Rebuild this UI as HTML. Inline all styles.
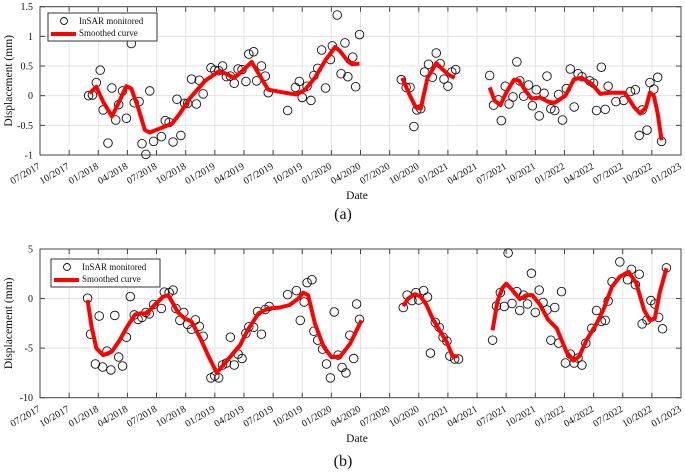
<!DOCTYPE html>
<html><head><meta charset="utf-8"><style>
body{margin:0;background:#fff;}
svg{display:block;}
text{font-family:"Liberation Serif","Times New Roman",serif;}
</style></head><body>
<svg id="chart" width="685" height="472" viewBox="0 0 685 472" font-family="Liberation Serif, serif"></svg>
<script>
// x values: months since 07/2017
const quarterLabels=["07/2017","10/2017","01/2018","04/2018","07/2018","10/2018","01/2019","04/2019","07/2019","10/2019","01/2020","04/2020","07/2020","10/2020","01/2021","04/2021","07/2021","10/2021","01/2022","04/2022","07/2022","10/2022","01/2023"];
const yTicksA=[-1,-0.5,0,0.5,1,1.5];
const yTickLabelsA=["-1","-0.5","0","0.5","1","1.5"];
const yTicksB=[-10,-5,0,5];
const yTickLabelsB=["-10","-5","0","5"];

const ptsA_t=[5.0,5.4,5.8,6.2,6.5,7.0,7.4,7.8,8.1,8.5,8.9,9.4,9.7,10.2,10.5,10.9,11.3,11.7,12.5,12.9,13.3,13.7,14.1,14.5,14.9,15.2,15.6,16.1,16.4,16.8,17.6,18.0,18.4,18.8,19.2,19.6,20.0,20.4,20.8,21.2,21.5,22.0,22.3,22.8,23.2,23.5,25.5,26.3,26.7,27.0,27.5,27.9,28.2,28.6,29.0,29.4,29.9,30.1,30.6,31.0,31.4,31.7,32.2,32.5,32.9,37.2,37.7,38.1,38.5,38.8,39.2,39.6,40.0,40.4,40.8,41.2,41.6,42.0,42.4,42.8,46.3,46.7,47.2,47.5,47.9,48.3,48.7,49.1,49.4,49.8,50.3,50.7,51.1,51.4,51.9,52.2,52.6,53.0,53.4,53.8,54.2,54.6,55.0,55.4,55.8,56.6,57.0,57.3,57.8,58.2,58.5,59.3,60.1,60.8,61.3,61.7,62.0,62.5,62.8,63.2,63.6,64.0];
const ptsA_v=[0,0.01,0.22,0.43,-0.24,-0.8,0.13,-0.41,-0.15,0.08,-0.38,0.88,-0.12,-0.1,-0.81,-0.99,0.08,-0.77,-0.69,-0.42,-0.45,-0.78,-0.06,-0.67,-0.13,-0.13,0.28,-0.14,0.26,0.03,0.47,0.43,0.42,0.5,0.32,0.33,0.21,0.45,0.44,0.24,0.7,0.74,0.25,0.5,0.33,0.05,-0.25,0.14,0.24,-0.03,0.16,-0.08,0.34,0.46,0.77,0.13,0.61,0.84,1.36,0.37,0.89,0.32,0.65,0.15,1.03,0.27,0.14,0.14,-0.52,-0.24,-0.22,0.4,0.53,0.31,0.72,0.54,0.28,0.16,0.4,0.44,0.34,-0.16,-0.07,-0.42,0.16,-0.14,-0.02,0.57,0.25,-0.01,0.18,-0.17,0.1,-0.34,0.04,0.33,-0.22,-0.25,0.02,-0.41,0.12,0.45,-0.19,0.37,0.32,0.25,0.21,-0.25,0.48,-0.23,0.16,-0.1,-0.08,0.07,0.1,-0.67,-0.24,-0.58,0.22,0.11,0.31,-0.77];

const curveA_t=[5.1,5.8,6.5,7.4,8.0,8.9,9.4,10.1,10.8,11.3,12.4,13.6,14.4,15.4,17.0,18.3,19.0,20.0,20.6,21.8,22.4,23.5,25.2,26.4,27.3,28.3,29.4,30.4,30.9,31.7,32.1,32.9,null,37.3,38.1,38.7,39.2,39.9,40.8,41.4,42.1,42.7,null,46.3,46.8,47.4,48.0,48.8,49.3,50.0,50.6,51.5,52.3,53.0,54.1,55.0,55.8,56.8,57.7,58.7,60.2,61.2,61.8,62.4,62.8,63.2,63.6,64.0];
const curveA_v=[0.04,0.15,-0.1,-0.35,-0.15,0.16,0.12,-0.2,-0.58,-0.62,-0.55,-0.47,-0.3,-0.05,0.25,0.4,0.38,0.3,0.38,0.57,0.4,0.1,0.05,0.02,0.1,0.3,0.6,0.82,0.75,0.58,0.53,0.54,null,0.3,0.0,-0.2,-0.22,0.3,0.55,0.45,0.35,0.3,null,0.14,-0.08,-0.16,0.05,0.27,0.26,0.08,-0.05,-0.03,-0.1,-0.12,0.0,0.28,0.3,0.2,0.03,0.05,0.05,-0.2,-0.3,-0.2,0.05,0.0,-0.3,-0.75];

const ptsB_t=[4.9,5.2,5.7,6.1,6.45,6.9,7.3,7.7,8.1,8.5,8.9,9.3,9.7,10.1,10.5,10.9,11.25,11.7,12.5,12.8,13.3,13.7,14.0,14.4,14.8,15.2,15.6,16.0,16.4,16.8,17.6,18.0,18.4,18.8,19.2,19.6,20.0,20.4,20.8,21.2,21.5,22.0,22.4,22.8,23.2,23.6,25.5,26.4,26.8,27.2,27.5,28.0,28.2,28.6,29.1,29.5,29.9,30.3,30.7,31.1,31.5,31.9,32.3,32.6,32.9,37.4,37.8,38.3,38.7,39.0,39.5,39.9,40.2,40.7,41.1,41.5,41.9,42.2,42.7,43.1,46.6,47.0,47.4,47.8,48.2,48.6,49.1,49.4,49.8,50.2,50.6,51.0,51.4,51.8,52.2,52.6,53.0,53.4,53.7,54.1,54.6,55.0,55.4,55.8,56.2,56.8,57.3,57.8,58.2,58.5,58.9,59.7,60.5,60.9,61.3,61.7,62.0,62.5,62.9,63.3,63.7,64.1,64.5];
const ptsB_v=[0.03,-3.6,-6.6,-1.76,-6.9,-5.3,-7.2,-1.7,-5.9,-6.8,-3.9,0.2,-1.65,-2.1,-1.9,-1.4,-1.55,-0.6,-1.0,0.65,0.6,0.85,-1.0,-2.2,-1.4,-2.6,-3.1,-2.15,-2.8,-3.8,-8.0,-7.8,-8.0,-6.7,-6.5,-3.9,-6.7,-5.6,-6.05,-3.5,-2.85,-2.9,-1.3,-3.6,-1.1,-0.8,0.4,0.8,-2.2,-0.35,1.6,1.9,-3.3,-4.2,-5.1,-6.6,-8.0,-1.35,-5.7,-6.95,-7.5,-3.7,-6.05,-0.55,-2.1,-0.9,0.35,-0.2,0.6,-0.15,0.8,0.15,-5.5,-2.4,-2.9,-3.9,-4.3,-5.8,-6.1,-6.1,-4.2,-0.75,0.6,-0.8,4.6,-0.5,0.7,-1.2,0.35,-0.55,2.55,-1.4,0.85,-0.4,-1.15,-4.2,-0.9,-4.5,0.7,-6.5,-5.6,-6.5,-6.0,-6.7,-4.5,-3.0,-1.2,-2.3,-2.2,-0.25,1.7,3.7,1.9,2.95,1.4,2.45,-2.55,-2.15,-0.2,-0.55,-1.9,-3.05,3.1];

const curveB_t=[4.9,5.3,5.8,6.5,7.4,8.2,9.0,9.8,10.3,11.0,11.8,12.7,13.2,13.7,14.2,14.9,15.6,16.5,17.3,18.2,18.7,19.6,20.6,21.4,22.5,23.5,24.7,25.7,26.6,27.1,27.6,28.3,29.2,30.0,30.9,31.9,33.1,null,37.4,37.9,38.6,39.2,39.8,40.5,41.2,41.9,42.5,43.0,null,46.6,47.1,47.6,48.0,48.6,49.4,50.1,50.7,51.5,52.3,53.2,54.2,54.9,55.5,56.3,57.3,58.0,58.9,59.7,60.6,61.4,62.2,62.8,63.3,63.8,64.5];
const curveB_v=[-0.15,-2.8,-5.0,-5.7,-5.35,-4.2,-2.8,-1.6,-1.5,-1.5,-0.65,0.2,0.35,-0.5,-1.4,-2.0,-2.3,-4.0,-5.7,-7.5,-6.9,-5.85,-4.7,-3.15,-1.5,-1.0,-0.9,-0.65,0.0,0.6,0.35,-2.5,-4.85,-5.9,-5.85,-4.6,-2.2,null,-0.75,0.0,0.45,0.2,-0.65,-2.15,-3.3,-4.4,-5.85,-5.8,null,-3.2,-0.3,1.05,1.5,0.9,-0.05,0.35,0.35,-0.65,-2.1,-3.0,-5.35,-6.25,-5.85,-4.15,-2.55,-1.15,1.2,2.2,2.7,1.55,-1.15,-2.2,-2.0,0.55,3.05];

const NS="http://www.w3.org/2000/svg";
const svg=document.getElementById('chart');
function mk(tag,attrs,parent){const e=document.createElementNS(NS,tag);for(const k in attrs)e.setAttribute(k,attrs[k]);if(tag==='text')e.setAttribute('font-family','Liberation Serif, serif');(parent||svg).appendChild(e);return e;}

function panel(cfg){
  const g=mk('g',{});
  
  
  const L=40,R=681,T=cfg.top,B=cfg.bottom;
  const xs=m=>L+(m/66)*(R-L);
  const ys=v=>B-(v-cfg.ymin)/(cfg.ymax-cfg.ymin)*(B-T);
  quarterLabels.forEach((lab,i)=>{
    const x=xs(i*3);
    const gl=mk('line',{x1:x,x2:x,y1:T,y2:B,stroke:'#e3e3e3','stroke-width':1},g);
    
    
    mk('line',{x1:x,x2:x,y1:B,y2:B-5,stroke:'#444','stroke-width':1},g);
    mk('line',{x1:x,x2:x,y1:T,y2:T+5,stroke:'#444','stroke-width':1},g);
    const t=mk('text',{x:x+1,y:B+13,'font-size':10,'text-anchor':'end',transform:`rotate(-30 ${x+1} ${B+13})`,fill:'#111'},g);
    t.textContent=lab;
    
    
  });
  cfg.yt.forEach((v,i)=>{
    const y=ys(v);
    const gl=mk('line',{x1:L,x2:R,y1:y,y2:y,stroke:'#e3e3e3','stroke-width':1},g);
    
    
    mk('line',{x1:L,x2:L+5,y1:y,y2:y,stroke:'#444'},g);
    mk('line',{x1:R,x2:R-5,y1:y,y2:y,stroke:'#444'},g);
    const t=mk('text',{x:L-7,y:y+3.5,'font-size':10,'text-anchor':'end',fill:'#111'},g);
    t.textContent=cfg.ytl[i];
    
    
  });
  const fr=mk('rect',{x:L,y:T,width:R-L,height:B-T,fill:'none',stroke:'#444','stroke-width':1},g);
  
  
  cfg.pt.forEach((m,i)=>{
    const c=mk('circle',{cx:xs(m),cy:ys(cfg.pv[i]),r:4.3,fill:'none',stroke:'#111','stroke-width':0.9},g);
    
    
  });
  let d='',start=true;
  cfg.ct.forEach((m,i)=>{
    if(m===null){start=true;return;}
    d+=(start?'M':'L')+xs(m).toFixed(1)+' '+ys(cfg.cv[i]).toFixed(1)+' ';start=false;
  });
  const p=mk('path',{d:d,fill:'none',stroke:'#ff0000','stroke-width':4,'stroke-linejoin':'round','stroke-linecap':'butt'},g);
  
  
  const lg=mk('g',{},g);
  
  
  const lx=cfg.lx,ly=cfg.ly;
  mk('rect',{x:lx,y:ly,width:109,height:28,fill:'#fff',stroke:'#333','stroke-width':1},lg);
  mk('circle',{cx:lx+16,cy:ly+8,r:3.5,fill:'none',stroke:'#111','stroke-width':0.9},lg);
  const t1=mk('text',{x:lx+31,y:ly+11,'font-size':9,fill:'#111'},lg);t1.textContent='InSAR monitored';
  
  
  mk('line',{x1:lx+3,x2:lx+28,y1:ly+21,y2:ly+21,stroke:'#ff0000','stroke-width':4},lg);
  const t2=mk('text',{x:lx+31,y:ly+23,'font-size':9,fill:'#111'},lg);t2.textContent='Smoothed curve';
  
  
  const yt=mk('text',{x:0,y:0,'font-size':11.5,'text-anchor':'middle',transform:`translate(12 ${(T+B)/2}) rotate(-90)`,fill:'#111'},g);
  yt.textContent='Displacement (mm)';
  
  
  const xt=mk('text',{x:357,y:cfg.dateY,'font-size':11.5,'text-anchor':'middle',fill:'#111'},g);
  xt.textContent='Date';
  
  
  const pl=mk('text',{x:343,y:cfg.capY,'font-size':16,'text-anchor':'middle',fill:'#111'},g);
  pl.textContent=cfg.cap;
  
  
}
panel({name:'panel-a',top:6.7,bottom:155,ymin:-1,ymax:1.5,yt:yTicksA,ytl:yTickLabelsA,pt:ptsA_t,pv:ptsA_v,ct:curveA_t,cv:curveA_v,lx:48,ly:13,dateY:199,capY:219,cap:'(a)'});
panel({name:'panel-b',top:249,bottom:397.7,ymin:-10,ymax:5,yt:yTicksB,ytl:yTickLabelsB,pt:ptsB_t,pv:ptsB_v,ct:curveB_t,cv:curveB_v,lx:51,ly:259,dateY:442,capY:466,cap:'(b)'});
</script>
</body></html>
